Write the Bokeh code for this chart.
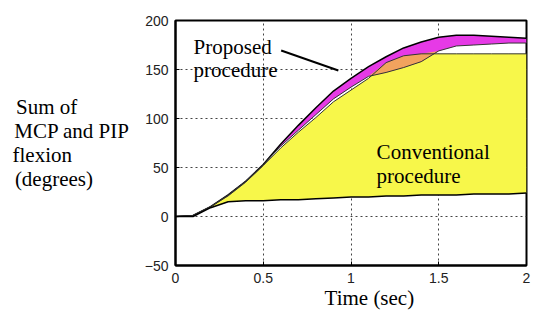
import numpy as np
from bokeh.plotting import figure
from bokeh.models import Label, FixedTicker, ColumnDataSource
from bokeh.embed import file_html
from bokeh.resources import INLINE

# ---- data ----
t = [0, 0.1, 0.2, 0.3, 0.4, 0.5, 0.6, 0.7, 0.8, 0.9, 1.0,
     1.1, 1.2, 1.3, 1.4, 1.5, 1.6, 1.7, 1.8, 1.9, 2.0]
proposed_max = [0, 1, 10, 22, 36, 53, 74, 93, 111, 128, 141,
                153, 163, 172, 178, 183, 185, 185, 184, 183, 182]
proposed_min = [0, 1, 10, 22, 36, 53, 72, 88, 104, 120, 132,
                143, 147, 152, 158, 169, 174, 175, 176, 177, 177]
conventional_max = [0, 1, 10, 21, 35, 52, 70, 86, 101, 117, 129,
                    141, 157, 164, 166, 166, 166, 166, 166, 166, 166]
conventional_min = [0, 0, 9, 15, 16, 16, 17, 17, 18, 19, 20,
                    20, 21, 21, 22, 22, 22, 23, 23, 23, 24]

x_ticks = [0, 0.5, 1, 1.5, 2]
x_tick_labels = {0: "0", 0.5: "0.5", 1: "1", 1.5: "1.5", 2: "2"}
y_ticks = [-50, 0, 50, 100, 150, 200]

y_title_lines = ["Sum of", "MCP and PIP", "flexion", "(degrees)"]
x_title = "Time (sec)"

A = np.array(proposed_max, float)
PL = np.array(proposed_min, float)
C = np.array(conventional_max, float)
D = np.array(conventional_min, float)
overlap_top = np.maximum(PL, np.minimum(A, C))

p = figure(width=533, height=312, output_backend="svg", toolbar_location=None,
           x_range=(0, 2), y_range=(-50, 200),
           min_border_left=175, min_border_right=7, min_border_top=20, min_border_bottom=47)
p.background_fill_color = "white"
p.border_fill_color = "white"
p.outline_line_color = "black"
p.outline_line_width = 2

# fills
p.varea(x=t, y1=D, y2=C, fill_color="#F7F74A")
p.varea(x=t, y1=PL, y2=A, fill_color="#E63AE6")
p.varea(x=t, y1=PL, y2=overlap_top, fill_color="#F2A35E")

# edge lines
p.line(t, A, line_color="black", line_width=1.5)
p.line(t, PL, line_color="#333333", line_width=1)
p.line(t, C, line_color="#333333", line_width=1)
p.line(t, D, line_color="black", line_width=1.5)

# axes
for ax in (p.xaxis[0], p.yaxis[0]):
    ax.axis_line_color = "black"
    ax.axis_line_width = 2
    ax.major_tick_in = 4
    ax.major_tick_out = 0
    ax.minor_tick_line_color = None
    ax.major_label_text_font = "Liberation Sans"
    ax.major_label_text_font_size = "14px"
    ax.major_label_text_color = "#222222"
    ax.axis_label_text_font = "Liberation Serif"
    ax.axis_label_text_font_size = "21px"
    ax.axis_label_text_font_style = "normal"
    ax.axis_label_text_color = "black"
p.xaxis.ticker = FixedTicker(ticks=x_ticks)
p.xaxis.major_label_overrides = x_tick_labels
p.xaxis.major_label_standoff = 7
# leading non-breaking spaces shift the centred title to the right, as in the reference
p.xaxis.axis_label = "\u00a0" * 7 + x_title
p.xaxis.axis_label_standoff = 0

# pad the shorter lines so that the right-aligned block reads left-aligned
pads = [10, 0, 11, 7]
y_block = "\n".join(line + "\u00a0" * n for line, n in zip(y_title_lines, pads))
p.yaxis.ticker = FixedTicker(ticks=y_ticks)
p.yaxis.major_label_standoff = 7
p.yaxis.axis_label = y_block
p.yaxis.axis_label_orientation = "horizontal"
p.yaxis.axis_label_standoff = 12
p.yaxis.axis_label_text_line_height = 1.0

for g in (p.xgrid[0], p.ygrid[0]):
    g.grid_line_color = "#444444"
    g.grid_line_dash = "2 3"
    g.grid_line_width = 1

serif = "Liberation Serif"
fs = "21px"

def lab(x, y, text):
    p.add_layout(Label(x=x, y=y, text=text, text_font=serif, text_font_size=fs,
                       text_color="black", text_align="left", text_baseline="alphabetic"))

# annotations inside the plot
lab(0.103, 172.8, "Proposed")
lab(0.103, 149.0, "procedure")
lab(1.146, 65.6, "Conventional")
lab(1.146, 41.8, "procedure")

seg = ColumnDataSource(dict(x0=[0.602], y0=[169.4], x1=[0.928], y1=[149.0]))
p.segment(x0="x0", y0="y0", x1="x1", y1="y1", source=seg, line_color="black", line_width=2)

open("out.html", "w").write(file_html(p, INLINE))
